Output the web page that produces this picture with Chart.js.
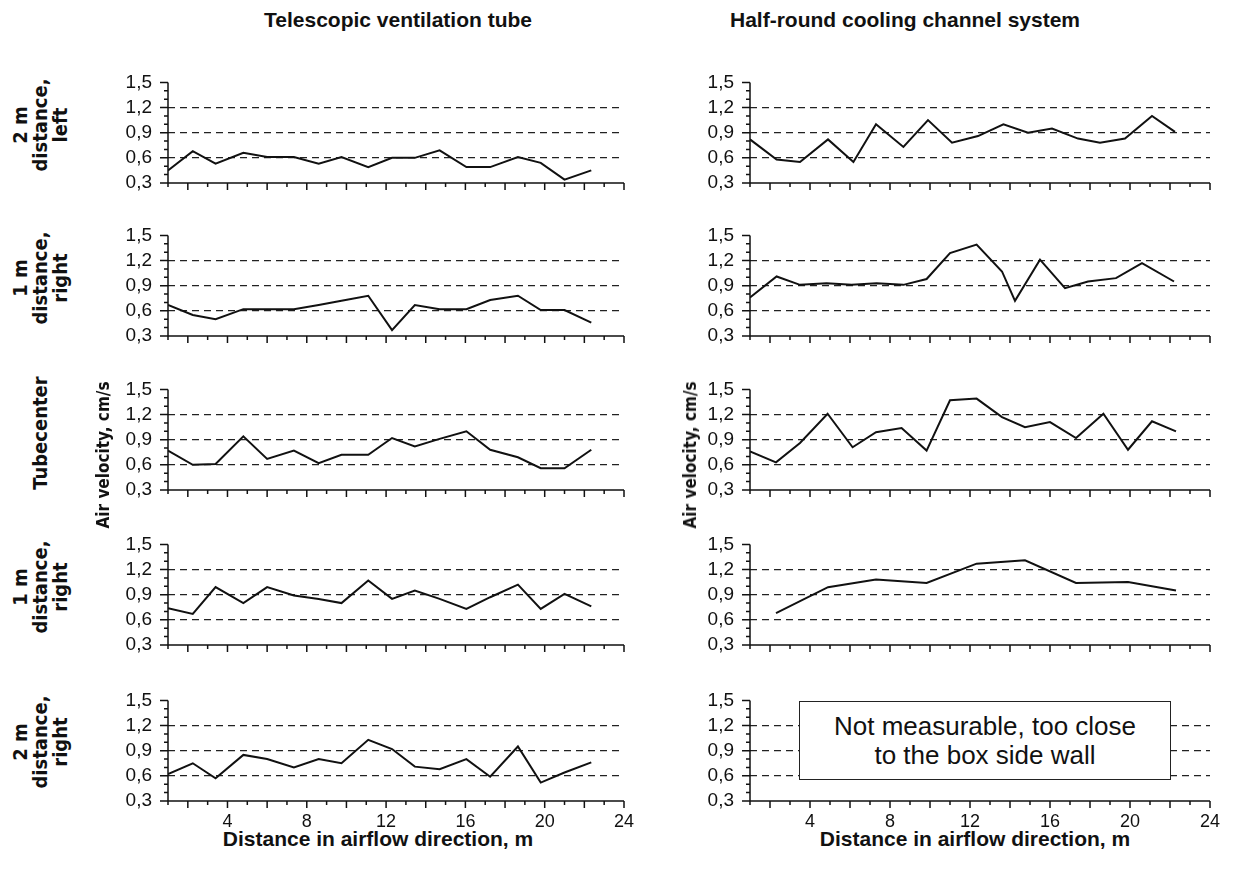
<!DOCTYPE html>
<html lang="en">
  <head>
    <meta charset="UTF-8" />
    <title>Air velocity along the tube</title>
    <script src="https://cdn.jsdelivr.net/npm/chart.js"></script>
    <style>
      html, body {
        margin: 0;
        padding: 0;
        background: #fff;
      }
      body {
        width: 1239px;
        height: 875px;
        position: relative;
        font-family: "Liberation Sans", Arial, sans-serif;
        color: #111;
        overflow: hidden;
      }
      canvas {
        position: absolute;
      }
      .title {
        position: absolute;
        font-weight: bold;
        font-size: 21px;
        white-space: nowrap;
        transform: translateX(-50%);
      }
      .rot {
        position: absolute;
        font-family: "Liberation Sans Narrow", "DejaVu Sans Condensed", sans-serif;
        font-stretch: condensed;
        font-weight: bold;
        font-size: 20px;
        line-height: 20px;
        text-align: center;
        white-space: nowrap;
        transform: translate(-50%, -50%) rotate(-90deg);
        z-index: 2;
      }
      .rot.axis {
        font-size: 17px;
      }
      .note {
        position: absolute;
        left: 799px;
        top: 701px;
        width: 372px;
        height: 79px;
        box-sizing: border-box;
        border: 1.5px solid #222;
        background: #fff;
        font-size: 26px;
        line-height: 29px;
        text-align: center;
        display: flex;
        align-items: center;
        justify-content: center;
        z-index: 2;
      }
    </style>
  </head>
  <body>
    <div class="title" style="left: 398px; top: 8px">Telescopic ventilation tube</div>
    <div class="title" style="left: 905px; top: 8px">Half-round cooling channel system</div>
    <div class="title" style="left: 378px; top: 827px">Distance in airflow direction, m</div>
    <div class="title" style="left: 975px; top: 827px">Distance in airflow direction, m</div>

    <div class="rot" style="left: 40px; top: 125px">2 m<br />distance,<br />left</div>
    <div class="rot" style="left: 40px; top: 278px">1 m<br />distance,<br />right</div>
    <div class="rot" style="left: 40px; top: 433px">Tubecenter</div>
    <div class="rot" style="left: 40px; top: 587px">1 m<br />distance,<br />right</div>
    <div class="rot" style="left: 40px; top: 742px">2 m<br />distance,<br />right</div>
    <div class="rot axis" style="left: 103px; top: 455px">Air velocity, cm/s</div>
    <div class="rot axis" style="left: 690px; top: 455px">Air velocity, cm/s</div>

    <div class="note">Not measurable, too close<br />to the box side wall</div>

    <script>
      // distance along airflow (m) and air velocity readings per panel
      const distLeft = [1, 2.25, 3.4, 4.8, 6.0, 7.35, 8.6, 9.75, 11.1, 12.3, 13.45, 14.7, 16.05, 17.25, 18.65, 19.8, 21.0, 22.35];
      const tube2mLeft = [0.45, 0.68, 0.53, 0.66, 0.61, 0.61, 0.53, 0.61, 0.49, 0.60, 0.60, 0.69, 0.49, 0.49, 0.61, 0.54, 0.34, 0.45];
      const tube1mRightA = [0.67, 0.55, 0.50, 0.62, 0.62, 0.62, 0.67, 0.72, 0.78, 0.37, 0.67, 0.62, 0.62, 0.73, 0.78, 0.61, 0.61, 0.46];
      const tubeCenter = [0.77, 0.60, 0.61, 0.94, 0.67, 0.77, 0.62, 0.72, 0.72, 0.92, 0.82, 0.91, 1.00, 0.78, 0.69, 0.56, 0.56, 0.78];
      const tube1mRightB = [0.74, 0.67, 0.99, 0.80, 0.99, 0.89, 0.85, 0.80, 1.07, 0.85, 0.95, 0.85, 0.73, 0.87, 1.02, 0.73, 0.91, 0.76];
      const tube2mRight = [0.62, 0.75, 0.57, 0.85, 0.80, 0.70, 0.80, 0.75, 1.03, 0.92, 0.71, 0.68, 0.80, 0.59, 0.95, 0.52, 0.64, 0.76];

      const distCh1 = [1, 2.33, 3.5, 4.9, 6.17, 7.3, 8.67, 9.9, 11.1, 12.4, 13.67, 14.9, 16.1, 17.4, 18.5, 19.75, 21.1, 22.25];
      const chan2mLeft = [0.82, 0.58, 0.55, 0.82, 0.55, 1.00, 0.73, 1.05, 0.78, 0.86, 1.00, 0.90, 0.95, 0.83, 0.78, 0.83, 1.10, 0.91];
      const distCh2 = [1, 2.33, 3.5, 4.83, 6.08, 7.33, 8.67, 9.83, 11.0, 12.33, 13.6, 14.25, 15.5, 16.75, 17.9, 19.3, 20.6, 22.2];
      const chan1mRightA = [0.76, 1.01, 0.91, 0.93, 0.91, 0.93, 0.91, 0.98, 1.29, 1.39, 1.07, 0.72, 1.21, 0.87, 0.95, 0.99, 1.17, 0.95];
      const distCh3 = [1, 2.3, 3.5, 4.88, 6.13, 7.3, 8.58, 9.83, 11.0, 12.33, 13.6, 14.75, 16.0, 17.3, 18.67, 19.9, 21.1, 22.3];
      const chanCenter = [0.76, 0.63, 0.86, 1.21, 0.81, 0.99, 1.04, 0.77, 1.37, 1.39, 1.17, 1.05, 1.11, 0.92, 1.21, 0.78, 1.12, 1.00];
      const distCh4 = [2.3, 4.9, 7.3, 9.83, 12.33, 14.75, 17.3, 19.9, 22.3];
      const chan1mRightB = [0.68, 0.99, 1.08, 1.04, 1.27, 1.31, 1.04, 1.05, 0.95];

      const xMin = 1, xMax = 24;
      const yMin = 0.3, yMax = 1.5;
      const dashedAt = [6, 9, 12]; // tenths: 0,6 0,9 1,2

      Chart.defaults.font.family = '"Liberation Sans", Arial, sans-serif';
      Chart.defaults.color = "#111";

      // axis lines and tick marks, drawn from the chart's own scales
      const axisMarks = {
        id: "axisMarks",
        afterDraw(chart) {
          const { ctx, chartArea: a, scales } = chart;
          const x = scales.x, y = scales.y;
          ctx.save();
          ctx.strokeStyle = "#111";
          ctx.lineWidth = 1.5;
          ctx.beginPath();
          ctx.moveTo(a.left, a.top);
          ctx.lineTo(a.left, a.bottom);
          ctx.lineTo(a.right, a.bottom);
          x.ticks.forEach((t) => {
            const px = x.getPixelForValue(t.value);
            const len = t.value % 2 === 0 ? 7 : 4;
            ctx.moveTo(px, a.bottom);
            ctx.lineTo(px, a.bottom + len);
          });
          y.ticks.forEach((t) => {
            const py = y.getPixelForValue(t.value);
            const len = Math.round(t.value * 10) % 3 === 0 ? 8 : 4;
            ctx.moveTo(a.left - len, py);
            ctx.lineTo(a.left, py);
          });
          ctx.stroke();
          ctx.restore();
        },
      };

      function makePanel(left, top, areaW, xs, ys, showX) {
        const canvas = document.createElement("canvas");
        const w = 54 + areaW + 22;
        const h = 12 + 116 + 32;
        canvas.width = w;
        canvas.height = h;
        canvas.style.left = left - 54 + "px";
        canvas.style.top = top - 12 + "px";
        canvas.style.width = w + "px";
        canvas.style.height = h + "px";
        document.body.appendChild(canvas);

        const points = xs.map((d, i) => ({ x: d, y: ys[i] }));

        new Chart(canvas.getContext("2d"), {
          type: "line",
          data: {
            datasets: [
              {
                data: points,
                borderColor: "#111",
                borderWidth: 2,
                pointRadius: 0,
                tension: 0,
                fill: false,
              },
            ],
          },
          options: {
            responsive: false,
            animation: false,
            devicePixelRatio: 1,
            layout: { padding: { top: 12, right: 22, left: 0, bottom: 0 } },
            plugins: { legend: { display: false }, tooltip: { enabled: false } },
            scales: {
              x: {
                type: "linear",
                min: xMin,
                max: xMax,
                afterFit: (s) => { s.height = 32; },
                grid: { drawOnChartArea: false, drawTicks: false },
                border: { display: false },
                ticks: {
                  stepSize: 1,
                  autoSkip: false,
                  maxRotation: 0,
                  padding: 10,
                  font: { size: 18 },
                  callback: (v) => (showX && v % 4 === 0 ? String(v) : ""),
                },
              },
              y: {
                min: yMin,
                max: yMax,
                afterFit: (s) => { s.width = 54; },
                grid: {
                  drawTicks: false,
                  lineWidth: 1.3,
                  color: (c) =>
                    dashedAt.includes(Math.round(c.tick.value * 10)) ? "#222" : "rgba(0,0,0,0)",
                },
                border: { display: false, dash: [7, 5] },
                ticks: {
                  stepSize: 0.1,
                  autoSkip: false,
                  padding: 16,
                  font: { size: 19 },
                  callback: (v) => {
                    const t = Math.round(v * 10);
                    return t % 3 === 0 ? (t / 10).toFixed(1).replace(".", ",") : "";
                  },
                },
              },
            },
          },
          plugins: [axisMarks],
        });
      }

      const tops = [67, 220, 374, 529, 685];
      const leftSeries = [tube2mLeft, tube1mRightA, tubeCenter, tube1mRightB, tube2mRight];
      leftSeries.forEach((ys, i) => makePanel(168, tops[i], 456, distLeft, ys, i === 4));

      makePanel(750, tops[0], 460, distCh1, chan2mLeft, false);
      makePanel(750, tops[1], 460, distCh2, chan1mRightA, false);
      makePanel(750, tops[2], 460, distCh3, chanCenter, false);
      makePanel(750, tops[3], 460, distCh4, chan1mRightB, false);
      makePanel(750, tops[4], 460, [], [], true);
    </script>
  </body>
</html>
